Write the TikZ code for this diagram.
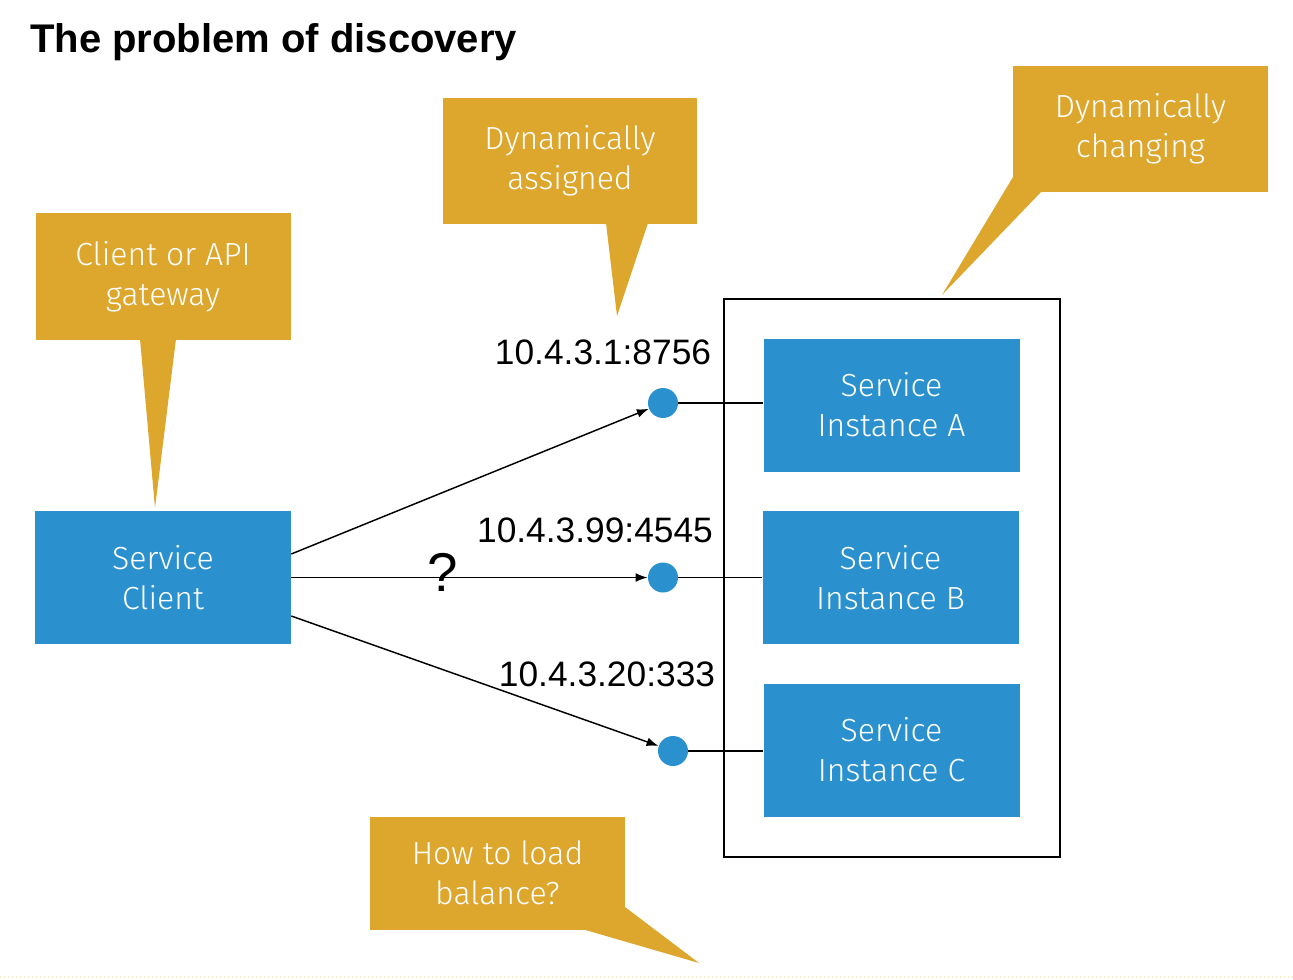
\documentclass[tikz,border=0pt]{standalone}
\usepackage{fontspec}
\usepackage{tikz}
\usetikzlibrary{arrows,arrows.meta,shapes,positioning,calc}
\setmainfont{Liberation Sans}
\newfontfamily\calloutfont{Fira Sans Light}
\definecolor{svcblue}{RGB}{42,145,206}
\definecolor{callgold}{RGB}{221,166,45}
\tikzset{
    svcbox/.style={fill=svcblue, text=white, align=center, minimum width=192pt, minimum height=99.75pt, font=\calloutfont\fontsize{24}{30}\selectfont},
    callout/.style={fill=callgold, text=white, align=center, minimum width=191.25pt, minimum height=94.5pt, font=\calloutfont\fontsize{24}{30}\selectfont},
    port/.style={circle, fill=svcblue, minimum size=22.5pt, inner sep=0pt},
    addr/.style={font=\fontsize{26.5}{30}\selectfont},
    link/.style={line width=1.1pt, -{Latex[length=9pt,width=6.5pt]}}
}
\begin{document}
\begin{tikzpicture}[x=0.75pt, y=-0.75pt]
        \useasboundingbox (0,0) rectangle (1293,979);
        \node[anchor=base west, inner sep=0pt, font=\bfseries\fontsize{30}{36}\selectfont] (title) at (30,52) {The problem of discovery};
        \draw[line width=1.5pt] (724,299) rectangle (1060,857);
        \node[svcbox] (client) at (163,577.5) {Service\\Client};
        \node[svcbox] (instA) at (891.5,405) {Service\\Instance A};
        \node[svcbox] (instB) at (890.5,577.5) {Service\\Instance B};
        \node[svcbox] (instC) at (891.5,750) {Service\\Instance C};
        \node[port] (dotA) at (663,403) {};
        \node[port] (dotB) at (663,577.5) {};
        \node[port] (dotC) at (673,751) {};
        \node[addr] (addrA) at (603,352) {10.4.3.1:8756};
        \node[addr] (addrB) at (595,530) {10.4.3.99:4545};
        \node[addr] (addrC) at (607,674) {10.4.3.20:333};
        \draw[line width=1.1pt] (dotA) -- (dotA -| instA.west);
        \draw[line width=1.1pt] (dotB) -- (dotB -| instB.west);
        \draw[line width=1.1pt] (dotC) -- (dotC -| instC.west);
        \draw[link] ($(client.east)+(0,-23.5)$) -- (dotA);
        \draw[link] (client.east) -- (dotB);
        \draw[link] ($(client.east)+(0,38.5)$) -- (dotC);
        \node[font=\fontsize{41}{44}\selectfont] (ask) at (443,572) {?};
        \node[callout, minimum height=95.25pt] (gateway) at (163,276.5) {Client or API\\gateway};
        \fill[callgold] (140,339) -- (155,508) -- (176,339) -- cycle;
        \node[callout, minimum width=190.5pt] (assigned) at (570,161) {Dynamically\\assigned};
        \fill[callgold] (606,223) -- (617,316) -- (648,223) -- cycle;
        \node[callout] (changing) at (1140.5,129) {Dynamically\\changing};
        \fill[callgold] (1013,177) -- (942,295) -- (1042,191) -- (1013,191) -- cycle;
        \node[callout, minimum height=84.75pt] (balance) at (497.5,873) {How to load\\balance?};
        \fill[callgold] (625,907) -- (699,963) -- (582,929) -- (625,929) -- cycle;
        \draw[callgold!25, dotted, line width=1pt] (0,977) -- (1293,977);
    \end{tikzpicture}
\end{document}
